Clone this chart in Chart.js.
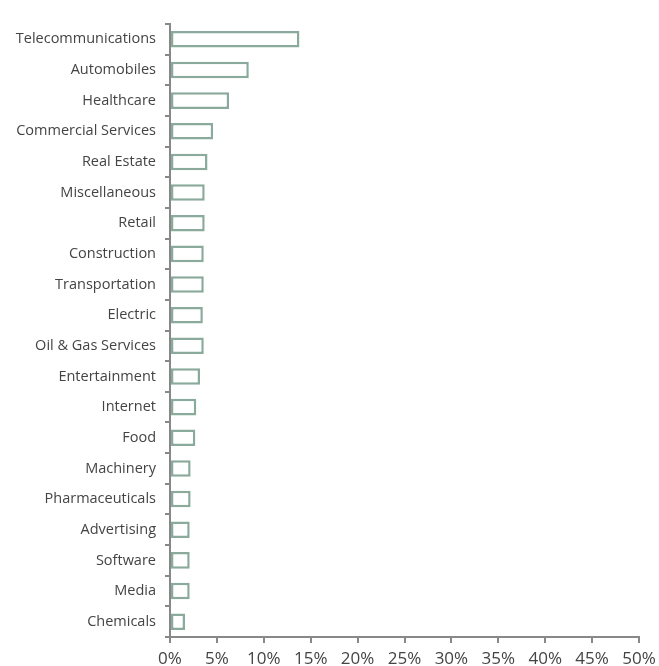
<!DOCTYPE html>
<html>
<head>
<meta charset="utf-8">
<script src="https://cdn.jsdelivr.net/npm/chart.js@4"></script>
<style>
  html, body { margin: 0; padding: 0; background: #fff; }
  #wrap { width: 659px; height: 666px; }
</style>
</head>
<body>
<div id="wrap"><canvas id="sectorChart" width="659" height="666"></canvas></div>
<script>
const sectors = [
    'Telecommunications', 'Automobiles', 'Healthcare', 'Commercial Services', 'Real Estate',
    'Miscellaneous', 'Retail', 'Construction', 'Transportation', 'Electric',
    'Oil & Gas Services', 'Entertainment', 'Internet', 'Food', 'Machinery',
    'Pharmaceuticals', 'Advertising', 'Software', 'Media', 'Chemicals'
];
const weights = [
    13.8, 8.4, 6.3, 4.6, 4.0,
    3.7, 3.7, 3.6, 3.6, 3.5,
    3.6, 3.2, 2.8, 2.7, 2.2,
    2.2, 2.1, 2.1, 2.1, 1.6
];
const xTicks = [0, 5, 10, 15, 20, 25, 30, 35, 40, 45, 50];

const axisColor = '#888888';
const textColor = '#444444';

new Chart(document.getElementById('sectorChart'), {
    type: 'bar',
    data: {
        labels: sectors,
        datasets: [{
            data: weights,
            backgroundColor: '#ffffff',
            borderColor: '#8aab9c',
            borderWidth: 2.5,
            borderSkipped: false,
            categoryPercentage: 1,
            barPercentage: 0.54
        }]
    },
    options: {
        indexAxis: 'y',
        responsive: false,
        animation: false,
        layout: { padding: { top: 24, right: 20, bottom: 0, left: 0 } },
        plugins: { legend: { display: false }, tooltip: { enabled: false } },
        scales: {
            x: {
                min: 0,
                max: 50,
                afterBuildTicks: scale => { scale.ticks = xTicks.map(v => ({ value: v })); },
                afterFit: scale => {
                    scale.height = 29;
                    scale.paddingLeft = 0;
                    scale.paddingRight = 0;
                },
                border: { color: axisColor, width: 2 },
                grid: { drawOnChartArea: false, drawTicks: true, tickLength: 6, color: axisColor, lineWidth: 2 },
                ticks: {
                    padding: 6,
                    maxRotation: 0,
                    autoSkip: false,
                    color: textColor,
                    font: { family: 'Open Sans', size: 17 },
                    callback: v => v + '%'
                }
            },
            y: {
                afterFit: scale => { scale.width = 170; },
                border: { color: axisColor, width: 2 },
                grid: { drawOnChartArea: false, drawTicks: true, tickLength: 5, color: axisColor, lineWidth: 2, offset: true },
                ticks: {
                    padding: 9,
                    color: textColor,
                    font: { family: 'Open Sans', size: 14.5 },
                    autoSkip: false
                }
            }
        }
    }
});
</script>
</body>
</html>
